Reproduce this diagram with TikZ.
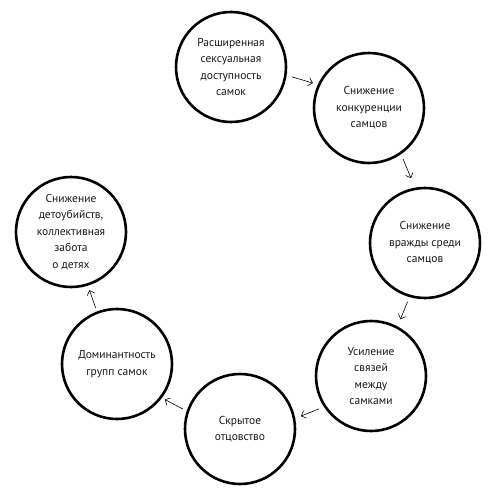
\documentclass[tikz,border=0pt]{standalone}
\usepackage{fontspec}
\setmainfont{PT Sans}
\usetikzlibrary{arrows.meta}
\tikzset{
  bubble/.style={circle, draw=black, line width=2.6pt, minimum size=110pt, inner sep=0pt,
    align=center, font=\fontsize{11.5}{16.5}\selectfont, text=black!90},
  link/.style={line width=0.6pt, -{Straight Barb[length=4pt,width=8pt,line width=0.6pt]}}
}
\begin{document}
\begin{tikzpicture}[x=1pt,y=-1pt]
\useasboundingbox (0,0) rectangle (501,498);
\node[bubble] (c1) at (231,67) {Расширенная\\сексуальная\\доступность\\самок};
\node[bubble] (c2) at (369,108) {Снижение\\конкуренции\\самцов};
\node[bubble] (c3) at (425,243) {Снижение\\вражды среди\\самцов};
\node[bubble] (c4) at (371,376) {Усиление\\связей\\между\\самками};
\node[bubble] (c5) at (240,429) {Скрытое\\отцовство};
\node[bubble] (c6) at (117,364) {Доминантность\\групп самок};
\node[bubble] (c7) at (71,232) {Снижение\\детоубийств,\\коллективная\\забота\\о детях};
\draw[link, transform canvas={shift={(2.2pt,7.6pt)}}, shorten <=5pt, shorten >=4.5pt] (c1) -- (c2);
\draw[link, transform canvas={shift={(11pt,4.6pt)}}, shorten <=4pt, shorten >=9pt] (c2) -- (c3);
\draw[link, transform canvas={shift={(5.5pt,-2.2pt)}}, shorten <=4.7pt, shorten >=7.3pt] (c3) -- (c4);
\draw[link, transform canvas={shift={(4.1pt,-10.1pt)}}, shorten <=4.2pt, shorten >=5pt] (c4) -- (c5);
\draw[link, transform canvas={shift={(-4.2pt,-8pt)}}, shorten <=3.8pt, shorten >=2.5pt] (c5) -- (c6);
\draw[link, transform canvas={shift={(-1.6pt,-0.6pt)}}, shorten <=3.7pt, shorten >=4.7pt] (c6) -- (c7);
\end{tikzpicture}
\end{document}
